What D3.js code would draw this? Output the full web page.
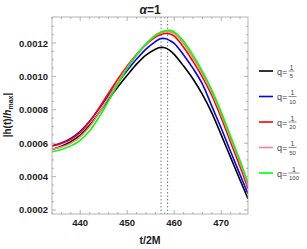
<!DOCTYPE html>
<html>
<head>
<meta charset="utf-8">
<script src="https://cdn.jsdelivr.net/npm/d3@7.9.0/dist/d3.min.js"></script>
<style>
  html, body { margin: 0; padding: 0; background: #fff; }
  svg { display: block; font-family: "Liberation Sans", Arial, sans-serif; }
</style>
</head>
<body>
<svg id="chart" width="307" height="249"></svg>
<script>
// time samples (t/2M)
const times = [434, 436, 438, 440, 442, 444, 446, 448, 450, 452, 454, 456, 457, 458, 459, 460, 462, 464, 466, 468, 470, 472, 474, 475.7];

// |h(t)/h_max|, one list per mass ratio
const q5   = [0.000563, 0.000582, 0.000609, 0.000649, 0.000707, 0.000782, 0.000862, 0.000937, 0.001007, 0.001074, 0.001128, 0.001163, 0.001173, 0.001172, 0.001158, 0.001132, 0.001062, 0.000985, 0.000893, 0.000782, 0.000650, 0.000515, 0.000380, 0.000268];
const q10  = [0.000585, 0.000602, 0.000629, 0.000671, 0.000731, 0.000806, 0.000886, 0.000962, 0.001035, 0.001104, 0.001164, 0.001208, 0.001226, 0.001227, 0.001216, 0.001198, 0.001129, 0.001048, 0.000954, 0.000822, 0.000690, 0.000550, 0.000412, 0.000296];
const q20  = [0.000583, 0.000598, 0.000623, 0.000665, 0.000728, 0.000810, 0.000898, 0.000983, 0.001062, 0.001133, 0.001191, 0.001235, 0.001250, 0.001257, 0.001256, 0.001241, 0.001175, 0.001090, 0.000996, 0.000886, 0.000753, 0.000606, 0.000460, 0.000328];
const q50  = [0.000563, 0.000577, 0.000600, 0.000638, 0.000698, 0.000780, 0.000873, 0.000966, 0.001054, 0.001130, 0.001194, 0.001243, 0.001258, 0.001267, 0.001268, 0.001256, 0.001196, 0.001112, 0.001016, 0.000905, 0.000773, 0.000627, 0.000482, 0.000348];
const q100 = [0.000549, 0.000563, 0.000584, 0.000617, 0.000674, 0.000756, 0.000852, 0.000953, 0.001047, 0.001127, 0.001194, 0.001248, 0.001264, 0.001273, 0.001276, 0.001266, 0.001210, 0.001127, 0.001030, 0.000918, 0.000786, 0.000641, 0.000496, 0.000362];

const denominators = ["5", "10", "20", "50", "100"];
const colors = ["#000000", "#0000ff", "#ff0000", "#ff8080", "#00ff00"];
const peakTimes = [457.2, 458.6];

const yTicks = [0.0002, 0.0004, 0.0006, 0.0008, 0.0010, 0.0012];
const xTicks = [440, 450, 460, 470];

const svg = d3.select("#chart");
const margin = { top: 17, right: 59, bottom: 35, left: 52 };
const width = 307, height = 249;

const x = d3.scaleLinear().domain([434, 475.7]).range([margin.left, width - margin.right]);
const y = d3.scaleLinear().domain([0.000176, 0.001356]).range([height - margin.bottom, margin.top]);

const x0 = margin.left, x1 = width - margin.right;
const y0 = height - margin.bottom, y1 = margin.top;
const frameColor = "#a0a0a0";

svg.append("clipPath").attr("id", "clip")
  .append("rect").attr("x", x0).attr("y", y1).attr("width", x1 - x0).attr("height", y0 - y1);

// dotted peak markers
svg.append("g").selectAll("line").data(peakTimes).join("line")
  .attr("x1", d => x(d)).attr("x2", d => x(d))
  .attr("y1", y1).attr("y2", y0)
  .attr("stroke", "#555").attr("stroke-width", 0.8)
  .attr("stroke-dasharray", "1.5,2");

// curves
const series = [q5, q10, q20, q50, q100];
const line = d3.line()
  .x((d, i) => x(times[i]))
  .y(d => y(d))
  .curve(d3.curveCatmullRom);

svg.append("g").attr("clip-path", "url(#clip)")
  .selectAll("path").data(series).join("path")
  .attr("fill", "none")
  .attr("stroke", (d, i) => colors[i])
  .attr("stroke-width", 1.6)
  .attr("d", line);

// frame with inward ticks on all sides
const xMinor = d3.range(434, 476, 2).filter(v => v % 10 !== 0);
const yMinor = d3.range(0.0002, 0.00135, 0.00005).filter(v => Math.abs(v / 0.0002 - Math.round(v / 0.0002)) > 1e-6);

const frame = svg.append("g").attr("stroke", frameColor).attr("stroke-width", 0.8);
frame.append("rect").attr("x", x0).attr("y", y1).attr("width", x1 - x0).attr("height", y0 - y1).attr("fill", "none");

function xTickLines(vals, len) {
  vals.forEach(v => {
    frame.append("line").attr("x1", x(v)).attr("x2", x(v)).attr("y1", y0).attr("y2", y0 - len);
    frame.append("line").attr("x1", x(v)).attr("x2", x(v)).attr("y1", y1).attr("y2", y1 + len);
  });
}
function yTickLines(vals, len) {
  vals.forEach(v => {
    frame.append("line").attr("y1", y(v)).attr("y2", y(v)).attr("x1", x0).attr("x2", x0 + len);
    frame.append("line").attr("y1", y(v)).attr("y2", y(v)).attr("x1", x1).attr("x2", x1 - len);
  });
}
xTickLines(xTicks, 4);
xTickLines(xMinor, 2);
yTickLines(yTicks, 4);
yTickLines(yMinor, 2);

// tick labels
svg.append("g").selectAll("text").data(yTicks).join("text")
  .attr("x", x0 - 4).attr("y", d => y(d) + 3.5)
  .attr("text-anchor", "end")
  .attr("font-size", 9.5).attr("font-weight", "bold").attr("fill", "#222")
  .text(d => d.toFixed(4));

svg.append("g").selectAll("text").data(xTicks).join("text")
  .attr("x", d => x(d)).attr("y", y0 + 12)
  .attr("text-anchor", "middle")
  .attr("font-size", 9.5).attr("font-weight", "bold").attr("fill", "#222")
  .text(d => d);

// title and axis labels
const title = svg.append("text").attr("x", 150).attr("y", 14)
  .attr("text-anchor", "middle").attr("font-size", 12).attr("font-weight", "bold").attr("fill", "#222");
title.append("tspan").attr("font-style", "italic").text("α");
title.append("tspan").text("=1");

svg.append("text").attr("x", 150).attr("y", 244)
  .attr("text-anchor", "middle").attr("font-size", 10.5).attr("font-weight", "bold").attr("fill", "#222")
  .text("t/2M");

const ylab = svg.append("text")
  .attr("transform", "translate(11,115) rotate(-90)")
  .attr("text-anchor", "middle").attr("font-size", 10).attr("font-weight", "bold").attr("fill", "#222");
ylab.append("tspan").text("|h(t)/");
ylab.append("tspan").attr("font-style", "italic").text("h");
ylab.append("tspan").attr("font-size", 7).attr("dy", 2).text("max");
ylab.append("tspan").attr("dy", -2).text("|");

// legend
const legend = svg.append("g");
denominators.forEach((den, i) => {
  const ly = 71 + i * 25.5;
  const g = legend.append("g");
  g.append("line").attr("x1", 259).attr("x2", 273).attr("y1", ly).attr("y2", ly)
    .attr("stroke", colors[i]).attr("stroke-width", 1.6);
  g.append("text").attr("x", 277).attr("y", ly + 3.5)
    .attr("font-size", 9).attr("fill", "#444").text("q=");
  const fx = 288.5;
  const w = den.length === 1 ? 6 : den.length === 2 ? 8 : 11;
  g.append("line").attr("x1", fx).attr("x2", fx + w).attr("y1", ly).attr("y2", ly)
    .attr("stroke", "#444").attr("stroke-width", 0.6);
  g.append("text").attr("x", fx + w / 2).attr("y", ly - 1.5).attr("text-anchor", "middle")
    .attr("font-size", 7).attr("fill", "#444").text("1");
  g.append("text").attr("x", fx + w / 2).attr("y", ly + 7).attr("text-anchor", "middle")
    .attr("font-size", 6).attr("fill", "#444").text(den);
});
</script>
</body>
</html>
